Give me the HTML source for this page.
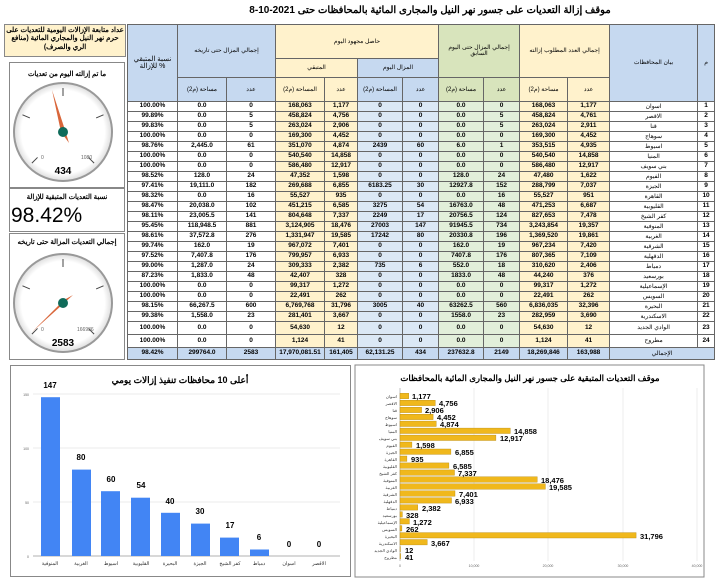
<!DOCTYPE html>
<html><head><meta charset="utf-8">
<style>
*{margin:0;padding:0;box-sizing:border-box}
body{width:720px;height:581px;background:#fff;position:relative;overflow:hidden;font-family:"Liberation Sans","Noto Sans CJK SC",sans-serif;}
.abs{position:absolute}
#title{left:160px;top:5px;width:540px;text-align:center;font-size:10px;font-weight:bold;direction:rtl}
table{position:absolute;left:127px;top:24px;border-collapse:collapse;table-layout:fixed;width:587px;font-size:6.5px;font-weight:bold;text-align:center}
td{border:1px solid #666;padding:0;overflow:hidden;white-space:nowrap;line-height:1}
.hb{background:#c6d9f0}.hy{background:#fff2cc}.hg{background:#d8e4bc}
.db{background:#dbe8f5}.dy{background:#fff2cc}.dg{background:#e2efda}
tr.d td{height:10px}
tr.t td{height:13px}
tr.tot td{height:12px;background:#c6d9f0}
.nm{font-weight:normal;font-size:6px}
.box{position:absolute;border:1px solid #888;background:#fff}
</style></head><body>
<div id="title" class="abs">موقف إزالة التعديات على جسور نهر النيل والمجارى المائية بالمحافظات حتى 2021-10-8</div>

<div class="abs" style="left:4px;top:24px;width:122px;height:33px;background:#fff2cc;border:1px solid #888;font-size:7px;font-weight:bold;text-align:center;direction:rtl;line-height:1.2;padding-top:2px">عداد متابعة الإزالات اليومية للتعديات على حرم نهر النيل والمجاري المائية (منافع الري والصرف)</div>

<div class="box" style="left:9px;top:62px;width:116px;height:126px"></div>
<div class="box" style="left:9px;top:188px;width:116px;height:44px"></div>
<div class="box" style="left:9px;top:233px;width:116px;height:127px"></div>
<div class="abs" style="left:10px;top:70px;width:114px;text-align:center;font-size:6.8px;font-weight:bold;direction:rtl;white-space:nowrap">ما تم إزالته اليوم من تعديات</div>
<div class="abs" style="left:10px;top:193px;width:114px;text-align:center;font-size:6.8px;font-weight:bold;direction:rtl;white-space:nowrap">نسبة التعديات المتبقية للإزالة</div>
<div class="abs" style="left:11px;top:204px;font-size:21px;">98.42%</div>
<div class="abs" style="left:10px;top:238px;width:114px;text-align:center;font-size:6.8px;font-weight:bold;direction:rtl;white-space:nowrap">إجمالي التعديات المزالة حتى تاريخه</div>

<svg class="abs" style="left:0;top:0" width="130" height="365">
<defs><radialGradient id="gg" cx="50%" cy="50%" r="50%"><stop offset="85%" stop-color="#fff"/><stop offset="100%" stop-color="#ddd"/></radialGradient></defs>
<g transform="translate(63,132)">
<circle r="49" fill="url(#gg)" stroke="#999" stroke-width="2"/>
<g stroke="#444" stroke-width="1">
<line x1="0" y1="-44" x2="0" y2="-36"/>
<line transform="rotate(-67)" x1="0" y1="-44" x2="0" y2="-36"/>
<line transform="rotate(67)" x1="0" y1="-44" x2="0" y2="-36"/>
<line transform="rotate(-135)" x1="0" y1="-44" x2="0" y2="-36"/>
<line transform="rotate(135)" x1="0" y1="-44" x2="0" y2="-36"/>
</g>
<text x="-22" y="27" font-size="5" fill="#666">0</text>
<text x="18" y="27" font-size="5" fill="#666">1080</text>
<polygon points="-11,-42 2,-2 -2,0" fill="#d9663a"/>
<polygon points="2,-2 6,11 -2,0" fill="#d9663a"/>
<circle r="5" fill="#0f6b5a"/>
<text x="0" y="42" font-size="10" font-weight="bold" text-anchor="middle">434</text>
</g>
<g transform="translate(63,303)">
<circle r="49" fill="url(#gg)" stroke="#999" stroke-width="2"/>
<g stroke="#444" stroke-width="1">
<line x1="0" y1="-44" x2="0" y2="-36"/>
<line transform="rotate(-67)" x1="0" y1="-44" x2="0" y2="-36"/>
<line transform="rotate(67)" x1="0" y1="-44" x2="0" y2="-36"/>
<line transform="rotate(-135)" x1="0" y1="-44" x2="0" y2="-36"/>
<line transform="rotate(135)" x1="0" y1="-44" x2="0" y2="-36"/>
</g>
<text x="-22" y="28" font-size="5" fill="#666">0</text>
<text x="14" y="28" font-size="5" fill="#666">166936</text>
<polygon points="-31,29 1,-3 -1,2" fill="#d9663a"/>
<polygon points="1,-3 10,-8 -1,2" fill="#d9663a"/>
<circle r="5" fill="#0f6b5a"/>
<text x="0" y="43" font-size="10" font-weight="bold" text-anchor="middle">2583</text>
</g>
</svg>

<table>
<colgroup><col style="width:50px"><col style="width:49px"><col style="width:49px"><col style="width:49px"><col style="width:33px"><col style="width:45px"><col style="width:36px"><col style="width:45px"><col style="width:36px"><col style="width:48px"><col style="width:42px"><col style="width:88px"><col style="width:17px"></colgroup>
<tr style="height:34px"><td rowspan="3" class="hb nm" style="font-size:7px">نسبة المتبقي<br>للإزالة %</td><td colspan="2" rowspan="2" class="hb nm">إجمالي المزال حتى تاريخه</td><td colspan="4" class="hy nm">حاصل مجهود اليوم</td><td colspan="2" rowspan="2" class="hg nm">إجمالي المزال حتى اليوم<br>السابق</td><td colspan="2" rowspan="2" class="hy nm">إجمالي العدد المطلوب إزالته</td><td rowspan="3" class="hb nm">بيان المحافظات</td><td rowspan="3" class="hb nm">م</td></tr>
<tr style="height:19px"><td colspan="2" class="hy nm">المتبقي</td><td colspan="2" class="hb nm">المزال اليوم</td></tr>
<tr style="height:24px"><td class="hb nm">مساحة (م2)</td><td class="hb nm">عدد</td><td class="hy nm">المساحة (م2)</td><td class="hy nm">عدد</td><td class="hb nm">المساحة (م2)</td><td class="hb nm">عدد</td><td class="hg nm">مساحة (م2)</td><td class="hg nm">عدد</td><td class="hy nm">مساحة (م2)</td><td class="hy nm">عدد</td></tr>
<tr class="d"><td>100.00%</td><td>0.0</td><td>0</td><td class="dy">168,063</td><td class="dy">1,177</td><td class="db">0</td><td class="db">0</td><td class="dg">0.0</td><td class="dg">0</td><td class="dy">168,063</td><td class="dy">1,177</td><td class="nm">اسوان</td><td>1</td></tr>
<tr class="d"><td>99.89%</td><td>0.0</td><td>5</td><td class="dy">458,824</td><td class="dy">4,756</td><td class="db">0</td><td class="db">0</td><td class="dg">0.0</td><td class="dg">5</td><td class="dy">458,824</td><td class="dy">4,761</td><td class="nm">الاقصر</td><td>2</td></tr>
<tr class="d"><td>99.83%</td><td>0.0</td><td>5</td><td class="dy">263,024</td><td class="dy">2,906</td><td class="db">0</td><td class="db">0</td><td class="dg">0.0</td><td class="dg">5</td><td class="dy">263,024</td><td class="dy">2,911</td><td class="nm">قنا</td><td>3</td></tr>
<tr class="d"><td>100.00%</td><td>0.0</td><td>0</td><td class="dy">169,300</td><td class="dy">4,452</td><td class="db">0</td><td class="db">0</td><td class="dg">0.0</td><td class="dg">0</td><td class="dy">169,300</td><td class="dy">4,452</td><td class="nm">سوهاج</td><td>4</td></tr>
<tr class="d"><td>98.76%</td><td>2,445.0</td><td>61</td><td class="dy">351,070</td><td class="dy">4,874</td><td class="db">2439</td><td class="db">60</td><td class="dg">6.0</td><td class="dg">1</td><td class="dy">353,515</td><td class="dy">4,935</td><td class="nm">اسيوط</td><td>5</td></tr>
<tr class="d"><td>100.00%</td><td>0.0</td><td>0</td><td class="dy">540,540</td><td class="dy">14,858</td><td class="db">0</td><td class="db">0</td><td class="dg">0.0</td><td class="dg">0</td><td class="dy">540,540</td><td class="dy">14,858</td><td class="nm">المنيا</td><td>6</td></tr>
<tr class="d"><td>100.00%</td><td>0.0</td><td>0</td><td class="dy">586,480</td><td class="dy">12,917</td><td class="db">0</td><td class="db">0</td><td class="dg">0.0</td><td class="dg">0</td><td class="dy">586,480</td><td class="dy">12,917</td><td class="nm">بني سويف</td><td>7</td></tr>
<tr class="d"><td>98.52%</td><td>128.0</td><td>24</td><td class="dy">47,352</td><td class="dy">1,598</td><td class="db">0</td><td class="db">0</td><td class="dg">128.0</td><td class="dg">24</td><td class="dy">47,480</td><td class="dy">1,622</td><td class="nm">الفيوم</td><td>8</td></tr>
<tr class="d"><td>97.41%</td><td>19,111.0</td><td>182</td><td class="dy">269,688</td><td class="dy">6,855</td><td class="db">6183.25</td><td class="db">30</td><td class="dg">12927.8</td><td class="dg">152</td><td class="dy">288,799</td><td class="dy">7,037</td><td class="nm">الجيزة</td><td>9</td></tr>
<tr class="d"><td>98.32%</td><td>0.0</td><td>16</td><td class="dy">55,527</td><td class="dy">935</td><td class="db">0</td><td class="db">0</td><td class="dg">0.0</td><td class="dg">16</td><td class="dy">55,527</td><td class="dy">951</td><td class="nm">القاهرة</td><td>10</td></tr>
<tr class="d"><td>98.47%</td><td>20,038.0</td><td>102</td><td class="dy">451,215</td><td class="dy">6,585</td><td class="db">3275</td><td class="db">54</td><td class="dg">16763.0</td><td class="dg">48</td><td class="dy">471,253</td><td class="dy">6,687</td><td class="nm">القليوبية</td><td>11</td></tr>
<tr class="d"><td>98.11%</td><td>23,005.5</td><td>141</td><td class="dy">804,648</td><td class="dy">7,337</td><td class="db">2249</td><td class="db">17</td><td class="dg">20756.5</td><td class="dg">124</td><td class="dy">827,653</td><td class="dy">7,478</td><td class="nm">كفر الشيخ</td><td>12</td></tr>
<tr class="d"><td>95.45%</td><td>118,948.5</td><td>881</td><td class="dy">3,124,905</td><td class="dy">18,476</td><td class="db">27003</td><td class="db">147</td><td class="dg">91945.5</td><td class="dg">734</td><td class="dy">3,243,854</td><td class="dy">19,357</td><td class="nm">المنوفية</td><td>13</td></tr>
<tr class="d"><td>98.61%</td><td>37,572.8</td><td>276</td><td class="dy">1,331,947</td><td class="dy">19,585</td><td class="db">17242</td><td class="db">80</td><td class="dg">20330.8</td><td class="dg">196</td><td class="dy">1,369,520</td><td class="dy">19,861</td><td class="nm">الغربية</td><td>14</td></tr>
<tr class="d"><td>99.74%</td><td>162.0</td><td>19</td><td class="dy">967,072</td><td class="dy">7,401</td><td class="db">0</td><td class="db">0</td><td class="dg">162.0</td><td class="dg">19</td><td class="dy">967,234</td><td class="dy">7,420</td><td class="nm">الشرقية</td><td>15</td></tr>
<tr class="d"><td>97.52%</td><td>7,407.8</td><td>176</td><td class="dy">799,957</td><td class="dy">6,933</td><td class="db">0</td><td class="db">0</td><td class="dg">7407.8</td><td class="dg">176</td><td class="dy">807,365</td><td class="dy">7,109</td><td class="nm">الدقهلية</td><td>16</td></tr>
<tr class="d"><td>99.00%</td><td>1,287.0</td><td>24</td><td class="dy">309,333</td><td class="dy">2,382</td><td class="db">735</td><td class="db">6</td><td class="dg">552.0</td><td class="dg">18</td><td class="dy">310,620</td><td class="dy">2,406</td><td class="nm">دمياط</td><td>17</td></tr>
<tr class="d"><td>87.23%</td><td>1,833.0</td><td>48</td><td class="dy">42,407</td><td class="dy">328</td><td class="db">0</td><td class="db">0</td><td class="dg">1833.0</td><td class="dg">48</td><td class="dy">44,240</td><td class="dy">376</td><td class="nm">بورسعيد</td><td>18</td></tr>
<tr class="d"><td>100.00%</td><td>0.0</td><td>0</td><td class="dy">99,317</td><td class="dy">1,272</td><td class="db">0</td><td class="db">0</td><td class="dg">0.0</td><td class="dg">0</td><td class="dy">99,317</td><td class="dy">1,272</td><td class="nm">الإسماعيلية</td><td>19</td></tr>
<tr class="d"><td>100.00%</td><td>0.0</td><td>0</td><td class="dy">22,491</td><td class="dy">262</td><td class="db">0</td><td class="db">0</td><td class="dg">0.0</td><td class="dg">0</td><td class="dy">22,491</td><td class="dy">262</td><td class="nm">السويس</td><td>20</td></tr>
<tr class="d"><td>98.15%</td><td>66,267.5</td><td>600</td><td class="dy">6,769,768</td><td class="dy">31,796</td><td class="db">3005</td><td class="db">40</td><td class="dg">63262.5</td><td class="dg">560</td><td class="dy">6,836,035</td><td class="dy">32,396</td><td class="nm">البحيرة</td><td>21</td></tr>
<tr class="d"><td>99.38%</td><td>1,558.0</td><td>23</td><td class="dy">281,401</td><td class="dy">3,667</td><td class="db">0</td><td class="db">0</td><td class="dg">1558.0</td><td class="dg">23</td><td class="dy">282,959</td><td class="dy">3,690</td><td class="nm">الاسكندرية</td><td>22</td></tr>
<tr class="t"><td>100.00%</td><td>0.0</td><td>0</td><td class="dy">54,630</td><td class="dy">12</td><td class="db">0</td><td class="db">0</td><td class="dg">0.0</td><td class="dg">0</td><td class="dy">54,630</td><td class="dy">12</td><td class="nm">الوادي الجديد</td><td>23</td></tr>
<tr class="t"><td>100.00%</td><td>0.0</td><td>0</td><td class="dy">1,124</td><td class="dy">41</td><td class="db">0</td><td class="db">0</td><td class="dg">0.0</td><td class="dg">0</td><td class="dy">1,124</td><td class="dy">41</td><td class="nm">مطروح</td><td>24</td></tr>
<tr class="tot"><td>98.42%</td><td>299764.0</td><td>2583</td><td>17,970,081.51</td><td>161,405</td><td>62,131.25</td><td>434</td><td>237632.8</td><td>2149</td><td>18,269,846</td><td>163,988</td><td colspan="2" class="nm">الإجمالي</td></tr>
</table>

<div class="box" style="left:10px;top:365px;width:341px;height:212px"></div>
<svg class="abs" style="left:0;top:0" width="720" height="581" font-family="Liberation Sans, Noto Sans CJK SC, sans-serif">
<text x="180" y="383" font-size="9" font-weight="bold" text-anchor="middle" direction="rtl">أعلى 10 محافظات تنفيذ إزالات يومي</text>
<g stroke="#e4e4e4" stroke-width="0.7"><line x1="33" y1="394" x2="340" y2="394"/><line x1="33" y1="448" x2="340" y2="448"/><line x1="33" y1="502" x2="340" y2="502"/></g>
<line x1="33" y1="556" x2="340" y2="556" stroke="#999" stroke-width="0.8"/>
<g font-size="3.5" fill="#666" text-anchor="end"><text x="29" y="396">150</text><text x="29" y="450">100</text><text x="29" y="504">50</text><text x="29" y="558">0</text></g>
<g fill="#4285f4">
<rect x="41" y="397.2" width="19" height="158.8"/><rect x="72" y="469.6" width="19" height="86.4"/><rect x="101" y="491.2" width="19" height="64.8"/><rect x="131" y="497.7" width="19" height="58.3"/><rect x="161" y="512.8" width="19" height="43.2"/><rect x="191" y="523.6" width="19" height="32.4"/><rect x="220" y="537.6" width="19" height="18.4"/><rect x="250" y="549.5" width="19" height="6.5"/>
</g>
<g font-size="8" font-weight="bold" text-anchor="middle">
<text x="50" y="388">147</text><text x="81" y="460">80</text><text x="111" y="482">60</text><text x="141" y="488">54</text><text x="170" y="504">40</text><text x="200" y="514">30</text><text x="230" y="528">17</text><text x="259" y="540">6</text><text x="289" y="547">0</text><text x="319" y="547">0</text>
</g>
<g font-size="5" text-anchor="middle" fill="#333">
<text x="50" y="565">المنوفية</text><text x="81" y="565">الغربية</text><text x="111" y="565">اسيوط</text><text x="141" y="565">القليوبية</text><text x="170" y="565">البحيرة</text><text x="200" y="565">الجيزة</text><text x="230" y="565">كفر الشيخ</text><text x="259" y="565">دمياط</text><text x="289" y="565">اسوان</text><text x="319" y="565">الاقصر</text>
</g>

<rect x="355" y="365" width="349" height="212" fill="none" stroke="#888"/>
<text x="530" y="381" font-size="8.5" font-weight="bold" text-anchor="middle" direction="rtl">موقف التعديات المتبقية على جسور نهر النيل والمجارى المائية بالمحافظات</text>
<g stroke="#e4e4e4" stroke-width="0.7"><line x1="474" y1="388" x2="474" y2="561"/><line x1="548" y1="388" x2="548" y2="561"/><line x1="623" y1="388" x2="623" y2="561"/><line x1="697" y1="388" x2="697" y2="561"/></g>
<line x1="400" y1="388" x2="400" y2="561" stroke="#999" stroke-width="0.6"/>
<g font-size="3.5" fill="#666" text-anchor="middle"><text x="400" y="567">0</text><text x="474" y="567">10,000</text><text x="548" y="567">20,000</text><text x="623" y="567">30,000</text><text x="697" y="567">40,000</text></g>
<g fill="#f0b81c" stroke="#b88a10" stroke-width="0.4">
<rect x="400" y="393.3" width="8.7" height="5.4"/>
<rect x="400" y="400.2" width="35.3" height="5.4"/>
<rect x="400" y="407.2" width="21.6" height="5.4"/>
<rect x="400" y="414.2" width="33.1" height="5.4"/>
<rect x="400" y="421.1" width="36.2" height="5.4"/>
<rect x="400" y="428.1" width="110.3" height="5.4"/>
<rect x="400" y="435.1" width="95.9" height="5.4"/>
<rect x="400" y="442.0" width="11.9" height="5.4"/>
<rect x="400" y="449.0" width="50.9" height="5.4"/>
<rect x="400" y="456.0" width="6.9" height="5.4"/>
<rect x="400" y="462.9" width="48.9" height="5.4"/>
<rect x="400" y="469.9" width="54.5" height="5.4"/>
<rect x="400" y="476.8" width="137.2" height="5.4"/>
<rect x="400" y="483.8" width="145.4" height="5.4"/>
<rect x="400" y="490.8" width="55.0" height="5.4"/>
<rect x="400" y="497.7" width="51.5" height="5.4"/>
<rect x="400" y="504.7" width="17.7" height="5.4"/>
<rect x="400" y="511.7" width="2.4" height="5.4"/>
<rect x="400" y="518.6" width="9.4" height="5.4"/>
<rect x="400" y="525.6" width="1.9" height="5.4"/>
<rect x="400" y="532.6" width="236.1" height="5.4"/>
<rect x="400" y="539.5" width="27.2" height="5.4"/>
<rect x="400" y="546.5" width="0.4" height="5.4"/>
<rect x="400" y="553.5" width="0.6" height="5.4"/>
</g>
<g font-size="7.5" font-weight="bold">
<text x="412" y="399">1,177</text><text x="439" y="406">4,756</text><text x="425" y="413">2,906</text><text x="437" y="420">4,452</text><text x="440" y="427">4,874</text><text x="514" y="434">14,858</text><text x="500" y="441">12,917</text><text x="416" y="448">1,598</text><text x="455" y="455">6,855</text><text x="411" y="462">935</text><text x="453" y="469">6,585</text><text x="458" y="476">7,337</text><text x="541" y="483">18,476</text><text x="549" y="490">19,585</text><text x="459" y="497">7,401</text><text x="455" y="504">6,933</text><text x="422" y="511">2,382</text><text x="406" y="518">328</text><text x="413" y="525">1,272</text><text x="406" y="532">262</text><text x="640" y="539">31,796</text><text x="431" y="546">3,667</text><text x="405" y="553">12</text><text x="405" y="560">41</text>
</g>
<g font-size="4.2" text-anchor="end" fill="#333">
<text x="397" y="398">اسوان</text><text x="397" y="405">الاقصر</text><text x="397" y="412">قنا</text><text x="397" y="419">سوهاج</text><text x="397" y="426">اسيوط</text><text x="397" y="433">المنيا</text><text x="397" y="440">بني سويف</text><text x="397" y="447">الفيوم</text><text x="397" y="454">الجيزة</text><text x="397" y="461">القاهرة</text><text x="397" y="468">القليوبية</text><text x="397" y="475">كفر الشيخ</text><text x="397" y="482">المنوفية</text><text x="397" y="489">الغربية</text><text x="397" y="496">الشرقية</text><text x="397" y="503">الدقهلية</text><text x="397" y="510">دمياط</text><text x="397" y="517">بورسعيد</text><text x="397" y="524">الإسماعيلية</text><text x="397" y="531">السويس</text><text x="397" y="538">البحيرة</text><text x="397" y="545">الاسكندرية</text><text x="397" y="552">الوادي الجديد</text><text x="397" y="559">مطروح</text>
</g>
</svg>
</body></html>
